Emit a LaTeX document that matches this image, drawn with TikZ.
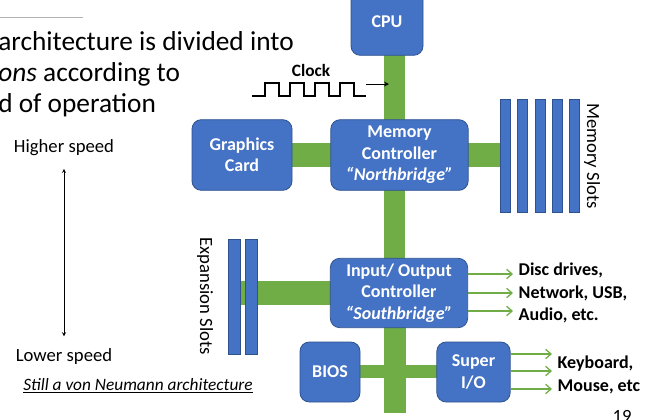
\documentclass[tikz,border=0pt]{standalone}
\usepackage{fontspec}
\usetikzlibrary{arrows.meta}
\setmainfont{Carlito}
\definecolor{bl}{HTML}{4472C4}
\definecolor{bd}{HTML}{2F528F}
\definecolor{gr}{HTML}{70AD47}
\begin{document}
\begin{tikzpicture}[x=0.75pt,y=-0.75pt,
 box/.style={draw=bd,fill=bl,rounded corners=7pt,text=white,font=\bfseries\fontsize{13.5}{16}\selectfont,align=center,line width=0.6pt,inner sep=1pt},
 bus/.style={fill=gr,draw=none},
 slot/.style={fill=bl,draw=bd,line width=0.4pt},
 garr/.style={draw=gr,line width=1pt,-{Straight Barb[length=4pt,width=7pt]}},
 lbl/.style={font=\bfseries\fontsize{13.5}{17}\selectfont,align=left,anchor=west}]
\useasboundingbox (0,0) rectangle (651,419);
\draw[gray!60] (0,17) -- (83,17);
\node[anchor=base west,font=\fontsize{20.5}{24}\selectfont,inner sep=0] (t1) at (-2,50) {architecture is divided into};
\node[anchor=base west,font=\fontsize{20.5}{24}\selectfont,inner sep=0] (t2) at (-2,81) {\textit{ons} according to};
\node[anchor=base west,font=\fontsize{20.5}{24}\selectfont,inner sep=0] (t3) at (-2,112) {d of operation};
\node[font=\fontsize{14}{16}\selectfont] (hs) at (64,148) {Higher speed};
\node[font=\fontsize{14}{16}\selectfont] (ls) at (64,357) {Lower speed};
\draw[<->,>=stealth] ([yshift=-6]hs.south) -- ([yshift=6]ls.north);
\node[font=\itshape\fontsize{13}{15}\selectfont] (vn) at (138,386) {\underline{Still a von Neumann architecture}};
% buses
\fill[bus] (384,55) rectangle (405,262);
\fill[bus] (384,320) rectangle (406,413);
\fill[bus] (290,143) rectangle (503,167);
\fill[bus] (238,281) rectangle (335,305);
\fill[bus] (355,365) rectangle (440,378);
% boxes
\node[box,minimum width=54pt,minimum height=50pt] (cpu) at (387,22) {CPU};
\node[box,minimum width=75pt,minimum height=53pt] (gc) at (242,155) {Graphics\\Card};
\node[box,minimum width=103pt,minimum height=53pt] (mc) at (399.5,155) {Memory\\Controller\\\textit{“Northbridge”}};
\node[box,minimum width=103pt,minimum height=52pt] (io) at (399,293) {Input/ Output\\Controller\\\textit{“Southbridge”}};
\node[box,minimum width=45pt,minimum height=45pt] (bios) at (330,372) {BIOS};
\node[box,minimum width=55pt,minimum height=45pt] (sio) at (473.5,372) {Super\\I/O};
% slots
\foreach \x in {500,517,535,552,569} \draw[slot] (\x,99) rectangle (\x+10,212);
\foreach \x in {228,245} \draw[slot] (\x,239) rectangle (\x+12,354);
\node[rotate=-90,font=\fontsize{14}{16}\selectfont] (ms) at (592,156) {Memory Slots};
\node[rotate=-90,font=\fontsize{14}{16}\selectfont] (es) at (205,296) {Expansion Slots};
% clock
\node[font=\bfseries\fontsize{13}{15}\selectfont] (clk) at (311,70) {Clock};
\draw[line width=0.8pt] (252,96) -- (265,96) -- (265,83) -- (279,83) -- (279,96) -- (290,96) -- (290,83) -- (304,83) -- (304,96) -- (315,96) -- (315,83) -- (329,83) -- (329,96) -- (340,96) -- (340,83) -- (354,83) -- (354,96) -- (366,96);
\coordinate (ca) at (366,84);
\draw[->,>=stealth,line width=0.7pt] (ca) -- (389,84);
% io outputs
\node[lbl] (dd) at (514,293) {Disc drives,\\Network, USB,\\Audio, etc.};
\foreach \y in {274,293,311} \draw[garr] (io.east |- 0,\y) -- (513,\y);
\node[lbl] (kb) at (553,375) {Keyboard,\\Mouse, etc};
\foreach \y in {354,371,389} \draw[garr] (sio.east |- 0,\y) -- (552,\y);
\node[font=\fontsize{14}{16}\selectfont] (pg) at (622,416) {19};
\end{tikzpicture}
\end{document}
